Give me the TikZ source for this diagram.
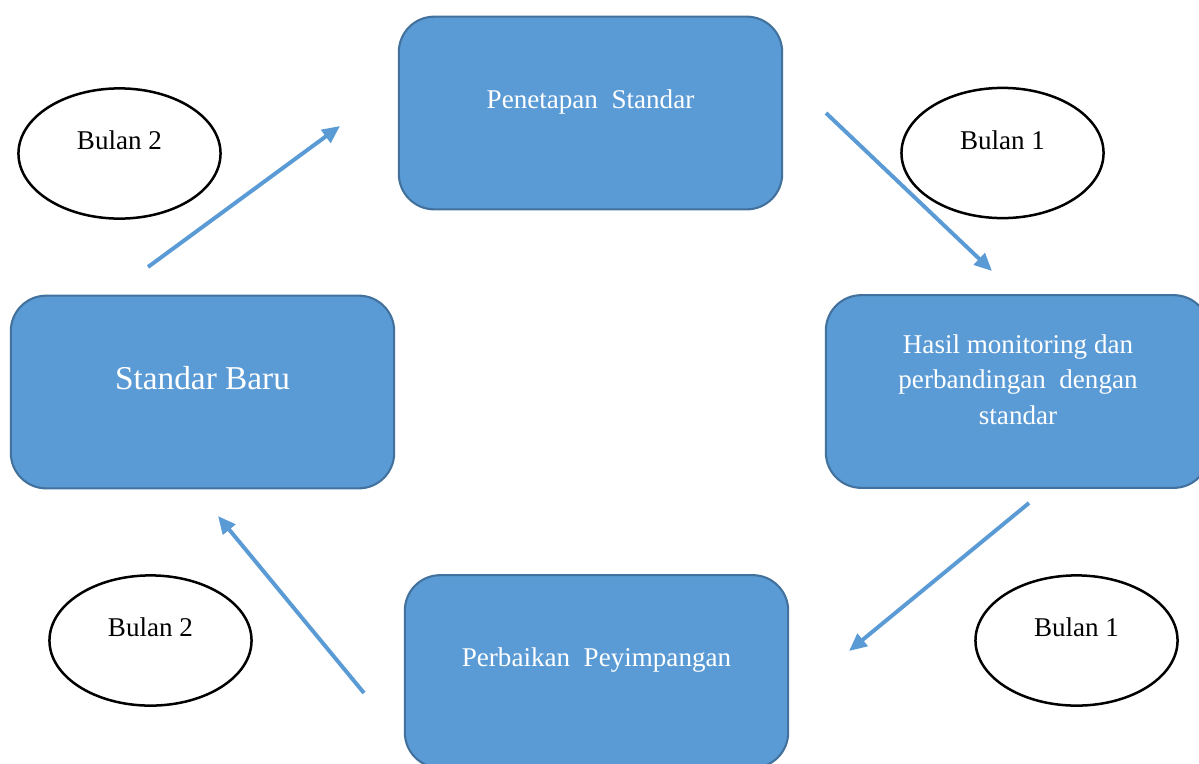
\documentclass[tikz,border=0pt]{standalone}
\usepackage{fontspec}
\setmainfont{Liberation Serif}
\usetikzlibrary{shapes.geometric,arrows.meta}

\definecolor{stagefill}{HTML}{5B9BD5}
\definecolor{stageline}{HTML}{41719C}

\tikzset{
	stage/.style={draw=stageline, line width=1pt, fill=stagefill, rounded corners=17pt,
		minimum width=184pt, minimum height=92.5pt, inner sep=0pt},
	stagetext/.style={text=white, inner sep=0pt, align=center,
		font=\fontsize{13}{17}\selectfont},
	month/.style={ellipse, draw, line width=1.2pt, minimum width=97pt, minimum height=62.5pt,
		inner sep=0pt, font=\fontsize{13}{16}\selectfont, text height=9pt, text depth=12.8pt},
	flow/.style={draw=stagefill, line width=1.9pt, -{Triangle[length=8.5pt,width=7.5pt]}}
}

\begin{document}
\begin{tikzpicture}[x=0.48pt, y=-0.48pt]
	\useasboundingbox (0,0) rectangle (1199,763);

	% Stages of the cycle
	\node[stage] (penetapan) at (590.5,113) {};
	\node[stage] (hasil) at (1017.5,391.5) {};
	\node[stage] (perbaikan) at (596.5,671.5) {};
	\node[stage] (baru) at (202.5,392) {};

	% Stage texts
	\node[stagetext, anchor=base] (penetapan-txt) at ([yshift=2.4pt]penetapan.center) {Penetapan~ Standar};
	\node[stagetext, anchor=north] (hasil-txt) at (1018,334) {Hasil monitoring dan\\ perbandingan~ dengan\\ standar};
	\node[stagetext, anchor=base] (perbaikan-txt) at ([yshift=2.2pt]perbaikan.center) {Perbaikan~ Peyimpangan};
	\node[stagetext, anchor=base, font=\fontsize{16}{19}\selectfont] (baru-txt) at ([yshift=1pt]baru.center) {Standar Baru};

	% Months
	\node[month] (bulan2-a) at (119.5,153.5) {Bulan 2};
	\node[month] (bulan1-a) at (1002.5,153) {Bulan 1};
	\node[month] (bulan1-b) at (1076.5,640.5) {Bulan 1};
	\node[month] (bulan2-b) at (150.5,640.5) {Bulan 2};

	% Arrow ends
	\coordinate (a1-s) at (148,267);  \coordinate (a1-e) at (340,126);
	\coordinate (a2-s) at (826,113);  \coordinate (a2-e) at (992,271);
	\coordinate (a3-s) at (1029,503); \coordinate (a3-e) at (849,651);
	\coordinate (a4-s) at (364,693);  \coordinate (a4-e) at (218,516);

	% Arrows
	\draw[flow] (a1-s) -- (a1-e);
	\draw[flow] (a2-s) -- (a2-e);
	\draw[flow] (a3-s) -- (a3-e);
	\draw[flow] (a4-s) -- (a4-e);
\end{tikzpicture}
\end{document}
